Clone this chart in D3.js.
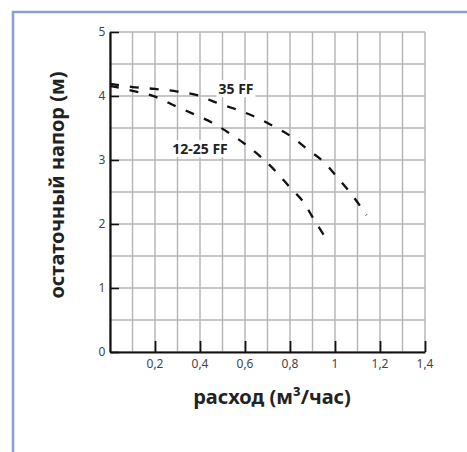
<!DOCTYPE html>
<html>
<head>
<meta charset="utf-8">
<script src="https://cdn.jsdelivr.net/npm/d3@7"></script>
<style>
  body { margin: 0; background: #fff; }
  svg { display: block; }
</style>
</head>
<body>
<div id="chart"></div>
<script>
// values
const xTicks = [0.2, 0.4, 0.6, 0.8, 1.0, 1.2, 1.4];
const yTicks = [0, 1, 2, 3, 4, 5];
const xGrid = d3.range(0, 15).map((i) => i / 10);
const yGrid = d3.range(0, 11).map((i) => i / 2);

const ff35 = [
  [0.0, 4.19], [0.1, 4.14], [0.2, 4.11], [0.3, 4.07], [0.4, 4.0],
  [0.47, 3.9], [0.57, 3.78], [0.66, 3.65], [0.73, 3.52], [0.8, 3.38],
  [0.88, 3.16], [0.95, 2.97], [1.01, 2.73], [1.07, 2.48], [1.14, 2.14],
];
const ff1225 = [
  [0.0, 4.16], [0.1, 4.08], [0.2, 3.99], [0.28, 3.86], [0.37, 3.72],
  [0.45, 3.59], [0.53, 3.42], [0.6, 3.25], [0.67, 3.05], [0.74, 2.81],
  [0.8, 2.57], [0.86, 2.34], [0.91, 2.05], [0.95, 1.83],
];
const labels = [
  { text: "35 FF", x: 0.56, y: 4.11 },
  { text: "12-25 FF", x: 0.4, y: 3.17 },
];

const W = 467, H = 452;
const plot = { left: 110, right: 425, top: 32, bottom: 352 };
const font = "'Noto Sans', 'Open Sans', sans-serif";

const svg = d3.select("#chart").append("svg").attr("width", W).attr("height", H);

// frame
svg.append("path")
  .attr("d", `M13,${H} L13,12 L${W},12`)
  .attr("fill", "none")
  .attr("stroke", "#8c9fd4")
  .attr("stroke-width", 2.5);

const x = d3.scaleLinear().domain([0, 1.4]).range([plot.left, plot.right]);
const y = d3.scaleLinear().domain([0, 5]).range([plot.bottom, plot.top]);

// grid
svg.append("g")
  .selectAll("line.vg")
  .data(xGrid)
  .join("line")
  .attr("x1", (d) => x(d)).attr("x2", (d) => x(d))
  .attr("y1", y(0)).attr("y2", y(5))
  .attr("stroke", "#b3b3b3").attr("stroke-width", 1.4);

svg.append("g")
  .selectAll("line.hg")
  .data(yGrid)
  .join("line")
  .attr("x1", x(0)).attr("x2", x(1.4))
  .attr("y1", (d) => y(d)).attr("y2", (d) => y(d))
  .attr("stroke", "#b3b3b3").attr("stroke-width", 1.4);

// axes
const xAxis = svg.append("g")
  .attr("transform", `translate(0,${plot.bottom})`)
  .call(d3.axisTop(x).tickValues(xTicks).tickSize(11).tickFormat(() => "").tickSizeOuter(0));
xAxis.select(".domain").attr("stroke", "#111").attr("stroke-width", 2);
xAxis.selectAll(".tick line").attr("stroke", "#111").attr("stroke-width", 1.8);

svg.append("g")
  .selectAll("text.xt")
  .data(xTicks)
  .join("text")
  .attr("x", (d) => x(d))
  .attr("y", 368)
  .attr("text-anchor", "middle")
  .attr("font-family", font)
  .attr("font-size", 12)
  .attr("fill", "#444")
  .text((d) => d3.format("~g")(d).replace(".", ","));

const yAxis = svg.append("g")
  .attr("transform", `translate(${plot.left},0)`)
  .call(d3.axisRight(y).tickValues(yTicks).tickSize(9).tickFormat(() => "").tickSizeOuter(0));
yAxis.select(".domain").attr("stroke", "#111").attr("stroke-width", 2.2);
yAxis.selectAll(".tick line").attr("stroke", "#111").attr("stroke-width", 1.6);

svg.append("g")
  .selectAll("text.yt")
  .data(yTicks)
  .join("text")
  .attr("x", 102)
  .attr("y", (d) => y(d))
  .attr("dy", "0.36em")
  .attr("text-anchor", "middle")
  .attr("font-family", font)
  .attr("font-size", 12)
  .attr("fill", "#444")
  .text((d) => d);

// curves
const line = d3.line()
  .x((d) => x(d[0]))
  .y((d) => y(d[1]))
  .curve(d3.curveMonotoneX);

[ff35, ff1225].forEach((pts) => {
  svg.append("path")
    .datum(pts)
    .attr("d", line)
    .attr("fill", "none")
    .attr("stroke", "#111")
    .attr("stroke-width", 2.3)
    .attr("stroke-dasharray", "9,11");
});

// curve labels with white backing
labels.forEach((l) => {
  const g = svg.append("g");
  const t = g.append("text")
    .attr("x", x(l.x))
    .attr("y", y(l.y))
    .attr("dy", "0.36em")
    .attr("text-anchor", "middle")
    .attr("font-family", font)
    .attr("font-weight", "bold")
    .attr("font-size", 14)
    .attr("fill", "#222")
    .text(l.text);
  const b = t.node().getBBox();
  g.insert("rect", "text")
    .attr("x", b.x - 2).attr("y", b.y + 1)
    .attr("width", b.width + 4).attr("height", b.height - 2)
    .attr("fill", "#fff");
});

// axis titles
svg.append("text")
  .attr("x", 272)
  .attr("y", 404)
  .attr("text-anchor", "middle")
  .attr("font-family", font)
  .attr("font-weight", "bold")
  .attr("font-size", 20)
  .attr("fill", "#222")
  .text("расход (м³/час)");

svg.append("text")
  .attr("transform", `translate(64,185) rotate(-90)`)
  .attr("text-anchor", "middle")
  .attr("font-family", font)
  .attr("font-weight", "bold")
  .attr("font-size", 20)
  .attr("fill", "#222")
  .text("остаточный напор (м)");
</script>
</body>
</html>
